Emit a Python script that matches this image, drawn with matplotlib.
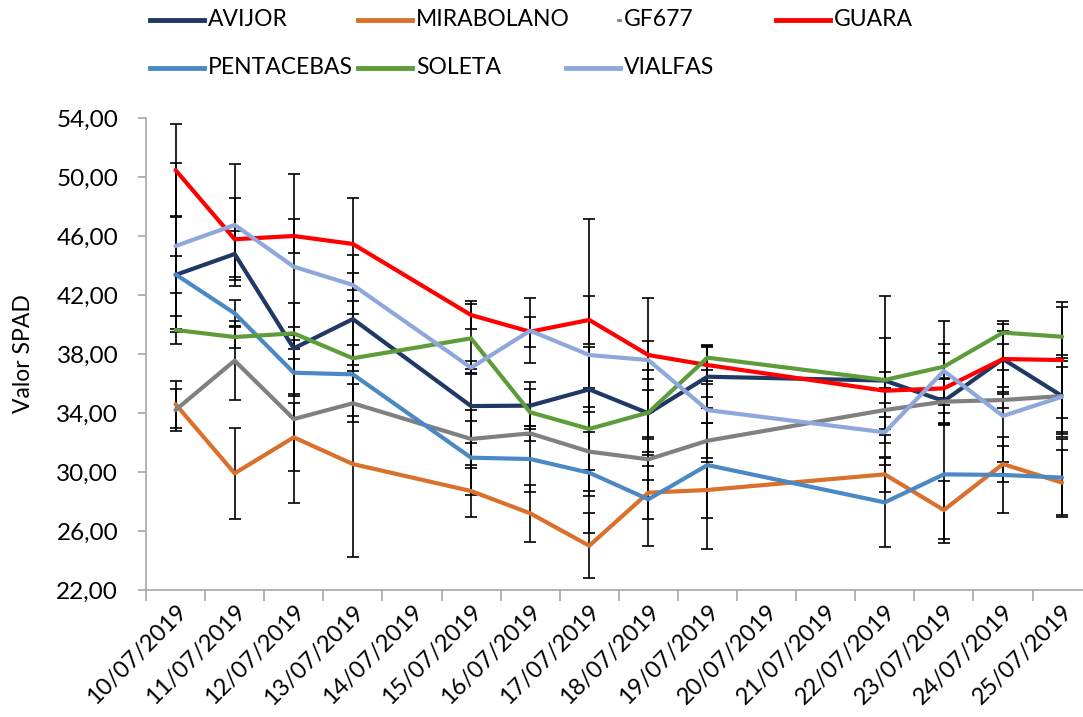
import matplotlib
matplotlib.use("Agg")
import matplotlib.pyplot as plt
from matplotlib.lines import Line2D
from matplotlib.ticker import FixedLocator, FuncFormatter

plt.rcParams['font.family'] = ['Lato', 'DejaVu Sans']

# calendar days shown on the axis, and the days that were actually measured
days = ["10/07/2019", "11/07/2019", "12/07/2019", "13/07/2019", "14/07/2019",
        "15/07/2019", "16/07/2019", "17/07/2019", "18/07/2019", "19/07/2019",
        "20/07/2019", "21/07/2019", "22/07/2019", "23/07/2019", "24/07/2019",
        "25/07/2019"]
sampled = ["10/07/2019", "11/07/2019", "12/07/2019", "13/07/2019", "15/07/2019",
           "16/07/2019", "17/07/2019", "18/07/2019", "19/07/2019", "22/07/2019",
           "23/07/2019", "24/07/2019", "25/07/2019"]

avijor = [43.36, 44.78, 38.38, 40.37, 34.47, 34.50, 35.60, 33.98, 36.46, 36.20, 34.81, 37.66, 35.15]
avijor_err = [3.90, 1.54, 3.10, 3.10, 2.50, 1.58, 2.90, 1.58, 2.10, 5.75, 1.50, 1.92, 2.60]

mirabolano = [34.60, 29.91, 32.35, 30.54, 28.71, 27.20, 25.00, 28.60, 28.78, 29.84, 27.42, 30.54, 29.28]
mirabolano_err = [1.60, 3.08, 2.30, 6.28, 1.75, 1.95, 2.20, 1.80, 1.90, 1.20, 1.95, 1.22, 2.20]

gf677 = [34.20, 37.55, 33.59, 34.66, 32.24, 32.62, 31.38, 30.86, 32.12, 34.20, 34.77, 34.88, 35.15]
gf677_err = [1.40, 2.70, 5.67, 1.30, 1.96, 0.50, 3.00, 1.40, 1.20, 0.50, 1.60, 0.57, 2.80]

guara = [50.47, 45.78, 46.00, 45.46, 40.64, 39.51, 40.31, 37.93, 37.25, 35.51, 35.67, 37.66, 37.59]
guara_err = [3.10, 2.78, 1.12, 3.14, 0.95, 1.02, 1.64, 3.85, 1.25, 3.57, 2.40, 2.40, 3.96]

pentacebas = [43.40, 40.76, 36.73, 36.62, 30.97, 30.88, 29.95, 28.15, 30.47, 27.94, 29.84, 29.80, 29.62]
pentacebas_err = [1.25, 0.90, 1.59, 2.00, 2.50, 2.23, 4.10, 3.20, 5.70, 3.00, 4.67, 2.60, 2.65]

soleta = [39.63, 39.15, 39.40, 37.71, 39.06, 34.05, 32.92, 34.03, 37.75, 36.24, 37.14, 39.45, 39.17]
soleta_err = [0.95, 0.77, 0.45, 3.90, 2.33, 1.55, 2.80, 2.90, 0.86, 0.55, 3.12, 0.80, 2.04]

vialfas = [45.32, 46.75, 43.92, 42.68, 37.07, 39.58, 37.93, 37.59, 34.20, 32.69, 36.85, 33.80, 35.10]
vialfas_err = [5.65, 4.13, 6.26, 2.00, 0.45, 2.20, 9.20, 1.30, 0.90, 0.20, 1.80, 3.10, 2.40]

series = [
    ("AVIJOR", avijor, avijor_err, "#203864"),
    ("MIRABOLANO", mirabolano, mirabolano_err, "#D9702B"),
    ("GF677", gf677, gf677_err, "#808080"),
    ("GUARA", guara, guara_err, "#FF0000"),
    ("PENTACEBAS", pentacebas, pentacebas_err, "#4A89C3"),
    ("SOLETA", soleta, soleta_err, "#5E9C3A"),
    ("VIALFAS", vialfas, vialfas_err, "#8EA8DB"),
]

W, H = 1083, 717
fig = plt.figure(figsize=(W / 100, H / 100), dpi=100)
ax = fig.add_axes([146 / W, 127 / H, 945.6 / W, 472 / H])

x = [days.index(d) for d in sampled]
for name, vals, errs, col in series:
    ax.errorbar(x, vals, yerr=errs, color=col, lw=3.0, ecolor="black",
                elinewidth=1.2, capsize=4.3, capthick=1.2, solid_capstyle="round")

ax.set_xlim(-0.5, len(days) - 0.5)
ax.set_ylim(22, 54)
ax.set_yticks(range(22, 55, 4))
ax.yaxis.set_major_formatter(FuncFormatter(lambda v, p: f"{v:.2f}".replace(".", ",")))
ax.set_xticks(range(len(days)))
ax.set_xticklabels(days, rotation=45, ha="right", va="top", rotation_mode="anchor")
ax.xaxis.set_minor_locator(FixedLocator([i - 0.5 for i in range(len(days) + 1)]))

grey = "#A6A6A6"
for s in ["top", "right"]:
    ax.spines[s].set_visible(False)
for s in ["left", "bottom"]:
    ax.spines[s].set_color(grey)
    ax.spines[s].set_linewidth(1.2)
ax.tick_params(axis="y", colors=grey, length=6, width=1.2, labelsize=17.5, labelcolor="black", pad=14)
ax.tick_params(axis="x", which="major", length=0, labelsize=17, pad=8)
ax.tick_params(axis="x", which="minor", colors=grey, length=8, width=1.2)
ax.set_ylabel("Valor SPAD", fontsize=16.5, labelpad=16)

# legend laid out on a fixed grid, two rows
rows = [[("AVIJOR", 0), ("MIRABOLANO", 1), ("GF677", 2), ("GUARA", 3)],
        [("PENTACEBAS", 0), ("SOLETA", 1), ("VIALFAS", 2)]]
col_x = [150, 358, 566, 776]
row_y = [20, 68]
colors = {name: col for name, _, _, col in series}
for r, row in enumerate(rows):
    yf = 1 - row_y[r] / H
    for name, c in row:
        x0 = col_x[c]
        if name == "GF677":
            fig.add_artist(Line2D([(x0 + 52) / W, (x0 + 54) / W], [yf, yf],
                                  color=colors[name], lw=2, transform=fig.transFigure))
        else:
            fig.add_artist(Line2D([x0 / W, (x0 + 54) / W], [yf, yf],
                                  color=colors[name], lw=3.5, transform=fig.transFigure))
        fig.text((x0 + 58) / W, yf, name, fontsize=16.5, va="center", ha="left")

fig.savefig("out.png", dpi=100)
